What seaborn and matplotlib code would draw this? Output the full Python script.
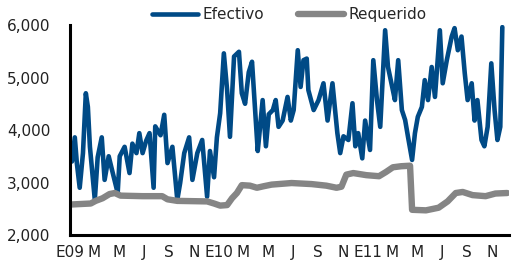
import numpy as np
import pandas as pd
import matplotlib
matplotlib.use("Agg")
import matplotlib.pyplot as plt
import seaborn as sns

# Efectivo
fechas_ef = ["2009-01-06", "2009-01-13", "2009-01-18", "2009-01-25", "2009-02-02", "2009-02-09", "2009-02-14",
             "2009-02-19", "2009-03-03", "2009-03-10", "2009-03-20", "2009-03-27", "2009-04-06", "2009-04-16",
             "2009-04-28", "2009-05-03", "2009-05-15", "2009-05-27", "2009-06-03", "2009-06-13", "2009-06-20",
             "2009-06-28", "2009-07-07", "2009-07-15", "2009-07-25", "2009-07-29", "2009-08-11", "2009-08-20",
             "2009-08-28", "2009-09-09", "2009-09-21", "2009-09-28", "2009-10-08", "2009-10-20", "2009-10-28",
             "2009-11-09", "2009-11-21", "2009-12-03", "2009-12-10", "2009-12-20", "2009-12-27",
             "2010-01-04", "2010-01-13", "2010-01-21", "2010-01-28", "2010-02-07", "2010-02-19", "2010-02-26",
             "2010-03-06", "2010-03-15", "2010-03-23", "2010-03-30", "2010-04-06", "2010-04-11", "2010-04-18",
             "2010-04-26", "2010-05-03", "2010-05-13", "2010-05-20", "2010-05-27", "2010-06-06", "2010-06-18",
             "2010-06-26", "2010-07-03", "2010-07-13", "2010-07-20", "2010-07-27", "2010-08-04", "2010-08-08",
             "2010-08-21", "2010-09-02", "2010-09-14", "2010-09-24", "2010-10-06", "2010-10-18", "2010-10-25",
             "2010-11-02", "2010-11-14", "2010-11-24", "2010-12-01", "2010-12-08", "2010-12-18", "2010-12-25",
             "2011-01-06", "2011-01-14", "2011-01-23", "2011-01-31", "2011-02-12", "2011-02-19", "2011-03-01",
             "2011-03-08", "2011-03-16", "2011-03-25", "2011-04-02", "2011-04-09", "2011-04-19", "2011-04-26",
             "2011-05-03", "2011-05-13", "2011-05-20", "2011-05-28", "2011-06-06", "2011-06-14", "2011-06-26",
             "2011-07-03", "2011-07-13", "2011-07-25", "2011-08-01", "2011-08-09", "2011-08-18", "2011-08-26",
             "2011-09-02", "2011-09-12", "2011-09-19", "2011-09-26", "2011-10-06", "2011-10-13", "2011-10-21",
             "2011-10-30", "2011-11-07", "2011-11-14", "2011-11-21", "2011-11-26"]
efectivo = [3400, 3860, 3370, 2900, 3560, 4700, 4440,
            3680, 2670, 3480, 3860, 3050, 3500, 3180,
            2800, 3500, 3680, 3180, 3740, 3560, 3940,
            3560, 3800, 3940, 2900, 4070, 3900, 4290,
            3370, 3680, 2670, 2990, 3560, 3860, 3050,
            3560, 3810, 2730, 3600, 3100, 3860,
            4320, 5460, 4760, 3870, 5400, 5490, 4700,
            4500, 5100, 5300, 4450, 3600, 4000, 4570,
            3690, 4300, 4380, 4570, 4060, 4180, 4630,
            4180, 4380, 5520, 4820, 5330, 5360, 4760,
            4380, 4570, 4890, 4180, 4890, 3940, 3560,
            3880, 3810, 4510, 3690, 3940, 3460, 4180,
            3620, 5330, 4570, 4060, 5900, 5200, 4830,
            4570, 5330, 4380, 4190, 3870, 3430, 3940,
            4250, 4440, 4950, 4570, 5200, 4630, 5900,
            4890, 5330, 5780, 5940, 5520, 5780, 5080,
            4570, 4890, 4180, 4570, 3810, 3690, 4060,
            5270, 4380, 3810, 4060, 5960]

# Requerido
fechas_req = ["2009-01-01", "2009-02-21", "2009-03-05", "2009-03-22", "2009-04-08", "2009-04-21", "2009-05-05",
              "2009-06-28", "2009-08-15", "2009-08-28", "2009-09-21", "2009-12-03", "2009-12-20",
              "2010-01-04", "2010-01-21", "2010-02-02", "2010-02-14", "2010-02-26", "2010-03-18", "2010-04-04",
              "2010-04-21", "2010-05-10", "2010-06-28", "2010-08-16", "2010-09-21", "2010-10-16", "2010-10-28",
              "2010-11-09", "2010-11-26", "2010-12-28", "2011-01-28", "2011-02-14", "2011-03-03", "2011-03-23",
              "2011-04-14", "2011-04-19", "2011-05-23", "2011-06-23", "2011-07-15", "2011-08-04", "2011-08-21",
              "2011-09-14", "2011-10-16", "2011-11-09", "2011-12-08"]
requerido = [2580, 2600, 2650, 2700, 2780, 2800, 2750,
             2740, 2740, 2680, 2650, 2640, 2600,
             2560, 2570, 2700, 2800, 2950, 2940, 2900,
             2930, 2960, 2990, 2970, 2940, 2900, 2920,
             3150, 3180, 3140, 3120, 3200, 3290, 3310,
             3320, 2480, 2470, 2520, 2640, 2800, 2820,
             2760, 2740, 2790, 2800]

etiquetas = ["E09", "M", "M", "J", "S", "N", "E10", "M", "M", "J", "S", "N",
             "E11", "M", "M", "J", "S", "N"]

df_ef = pd.DataFrame({"fecha": pd.to_datetime(fechas_ef), "valor": efectivo})
df_req = pd.DataFrame({"fecha": pd.to_datetime(fechas_req), "valor": requerido})

sns.set_style("white")
plt.rcParams["font.family"] = ["DejaVu Sans"]

fig = plt.figure(figsize=(5.14, 2.66), dpi=100)
ax = fig.add_axes([0.136, 0.1165, 0.854, 0.7895])

sns.lineplot(data=df_ef, x="fecha", y="valor", ax=ax, color="#004A86", linewidth=3.3, label="Efectivo")
sns.lineplot(data=df_req, x="fecha", y="valor", ax=ax, color="#858585", linewidth=4.6, label="Requerido")

ax.set_ylim(2000, 6000)
ax.set_yticks([2000, 3000, 4000, 5000, 6000])
ax.set_yticklabels([f"{v:,}" for v in [2000, 3000, 4000, 5000, 6000]])
ax.set_xlim(pd.Timestamp("2009-01-01"), pd.Timestamp("2011-12-12"))
ticks = pd.date_range("2009-01-01", "2011-11-01", freq="2MS")
ax.set_xticks(ticks)
ax.set_xticklabels(etiquetas)
ax.set_xlabel("")
ax.set_ylabel("")

for s in ["top", "right"]:
    ax.spines[s].set_visible(False)
for s in ["left", "bottom"]:
    ax.spines[s].set_color("black")
    ax.spines[s].set_linewidth(2.2)
ax.tick_params(axis="y", direction="inout", length=8, width=2, colors="black", pad=10, labelsize=11, labelcolor="#222222")
ax.tick_params(axis="x", length=0, pad=7, labelsize=11, labelcolor="#222222")

leg = ax.legend(loc="center", bbox_to_anchor=(0.5, 1.05), ncol=2, frameon=False, fontsize=11,
                handlelength=3.0, columnspacing=2.2, handletextpad=0.3)
leg.set_zorder(5)

fig.savefig("out.png", dpi=100)
